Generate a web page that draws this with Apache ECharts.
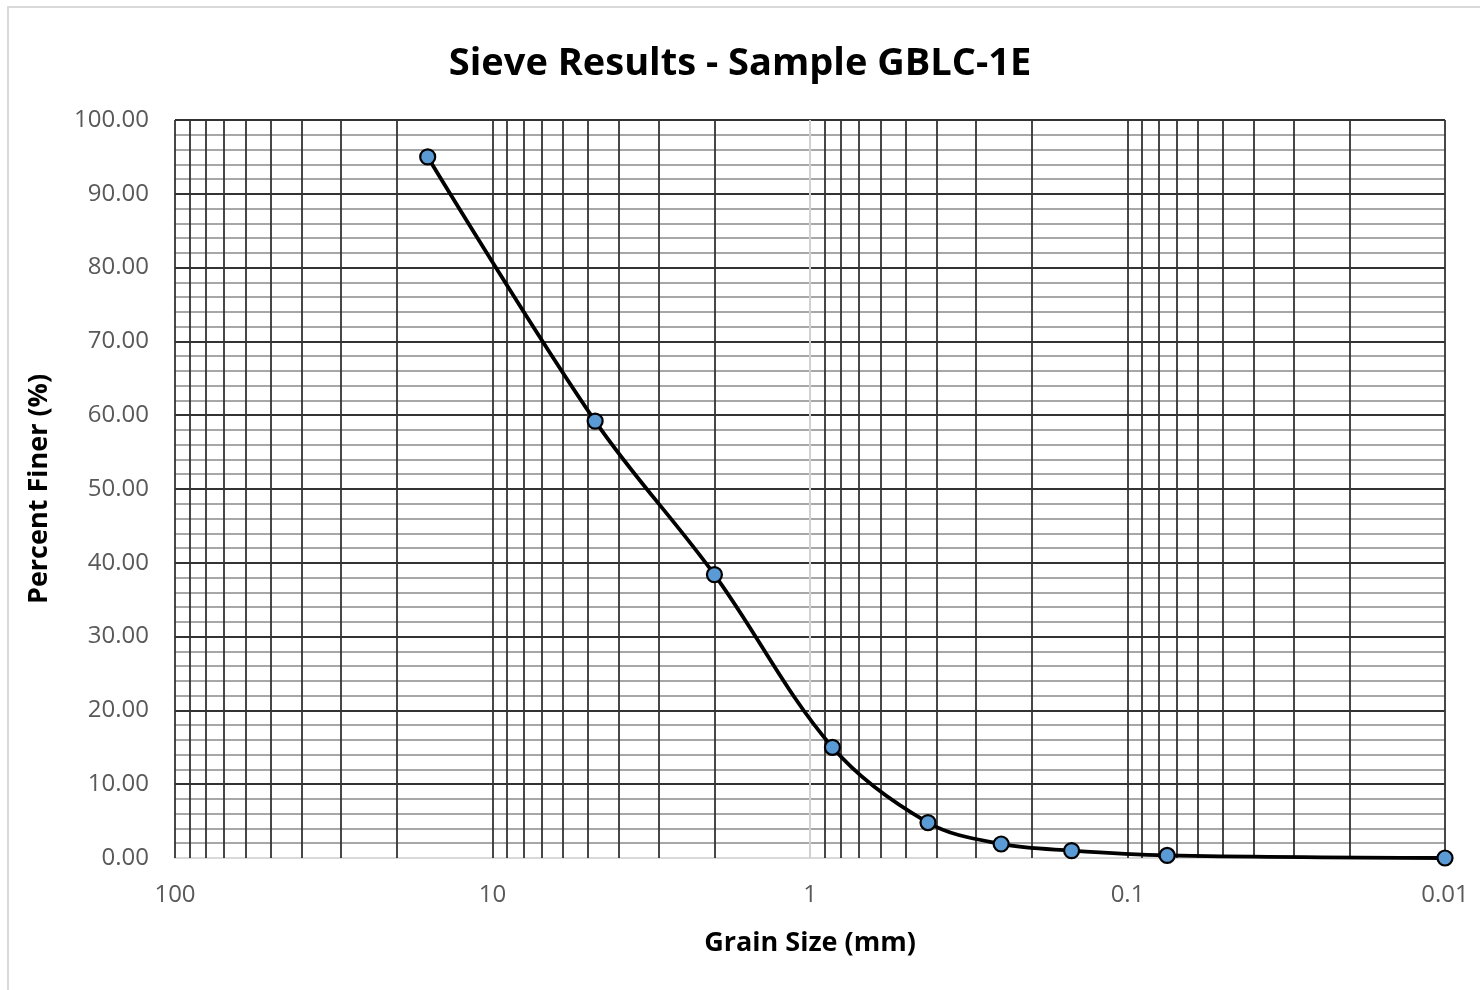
<!DOCTYPE html>
<html>
<head>
<meta charset="utf-8">
<title>Sieve Results - Sample GBLC-1E</title>
<script src="https://cdn.jsdelivr.net/npm/echarts@6/dist/echarts.min.js"></script>
<style>
  html, body { margin: 0; padding: 0; background: #fff; }
  #chart { width: 1480px; height: 990px; }
</style>
</head>
<body>
<div id="chart"></div>
<script>
// sieve opening (mm) and percent passing
const grainSizes = [16, 4.75, 2.0, 0.85, 0.425, 0.25, 0.15, 0.075, 0.01];
const percentFiner = [95.0, 59.2, 38.4, 15.0, 4.8, 1.9, 1.0, 0.35, 0.0];

// log-cycle grid lines: 1..9 in each decade between 100 and 0.01
const decades = [0.01, 0.1, 1, 10];
const cycleSteps = [1, 2, 3, 4, 5, 6, 7, 8, 9];

const FONT = '"Open Sans", "Liberation Sans", sans-serif';

const gridLines = [];
decades.forEach((d) => {
  cycleSteps.forEach((s) => {
    const v = +(d * s).toPrecision(3);
    if (v !== 1) gridLines.push({ xAxis: v });
  });
});
gridLines.push({ xAxis: 100 });

const chart = echarts.init(document.getElementById('chart'));

const option = {
  backgroundColor: '#ffffff',
  animation: false,
  title: {
    text: 'Sieve Results - Sample GBLC-1E',
    left: 'center',
    top: 40,
    textStyle: {
      fontFamily: FONT,
      fontWeight: 'bold',
      fontSize: 38,
      color: '#000000',
    },
  },
  graphic: [
    {
      type: 'rect',
      shape: { x: 8, y: 7, width: 1500, height: 1000 },
      style: { fill: 'none', stroke: '#d9d9d9', lineWidth: 2 },
      silent: true,
    },
  ],
  grid: {
    left: 175,
    right: 35,
    top: 120,
    bottom: 132,
    containLabel: false,
  },
  xAxis: {
    type: 'log',
    logBase: 10,
    inverse: true,
    min: 0.01,
    max: 100,
    splitNumber: 4,
    name: 'Grain Size (mm)',
    nameLocation: 'middle',
    nameGap: 72,
    nameTextStyle: {
      fontFamily: FONT,
      fontWeight: 'bold',
      fontSize: 27,
      color: '#000000',
    },
    axisLine: { show: true, lineStyle: { color: '#d9d9d9', width: 2 } },
    axisTick: { show: false },
    splitLine: { show: false },
    axisLabel: {
      fontFamily: FONT,
      fontSize: 24,
      color: '#595959',
      margin: 25,
      formatter(value) {
        return String(+value.toPrecision(3));
      },
    },
  },
  yAxis: {
    type: 'value',
    min: 0,
    max: 100,
    interval: 10,
    name: 'Percent Finer (%)',
    nameLocation: 'middle',
    nameRotate: 90,
    nameGap: 122,
    nameTextStyle: {
      fontFamily: FONT,
      fontWeight: 'bold',
      fontSize: 27,
      color: '#000000',
    },
    axisLine: { show: false },
    axisTick: { show: false },
    axisLabel: {
      fontFamily: FONT,
      fontSize: 24,
      color: '#595959',
      margin: 26,
      formatter(value) {
        return value.toFixed(2);
      },
    },
    splitLine: { show: true, lineStyle: { color: '#333333', width: 1.8 } },
    minorTick: { show: false, splitNumber: 5 },
    minorSplitLine: { show: true, lineStyle: { color: '#8a8a8a', width: 1.6 } },
  },
  series: [
    {
      // vertical log grid
      name: 'grid',
      type: 'line',
      data: [],
      silent: true,
      z: 1,
      markLine: {
        silent: true,
        symbol: 'none',
        label: { show: false },
        animation: false,
        lineStyle: { color: '#333333', width: 1.8, type: 'solid' },
        data: gridLines,
      },
    },
    {
      // vertical axis crossing at 1
      name: 'axis',
      type: 'line',
      data: [],
      silent: true,
      z: 2,
      markLine: {
        silent: true,
        symbol: 'none',
        label: { show: false },
        animation: false,
        lineStyle: { color: '#d0d0d0', width: 2, type: 'solid' },
        data: [{ xAxis: 1 }],
      },
    },
    {
      name: 'Percent Finer',
      type: 'line',
      z: 5,
      smooth: 0.35,
      data: grainSizes.map((g, i) => [g, percentFiner[i]]),
      lineStyle: { color: '#000000', width: 3.8 },
      symbol: 'circle',
      symbolSize: 15,
      itemStyle: {
        color: '#5b9bd5',
        borderColor: '#000000',
        borderWidth: 2.2,
      },
    },
  ],
};

chart.setOption(option);
</script>
</body>
</html>
